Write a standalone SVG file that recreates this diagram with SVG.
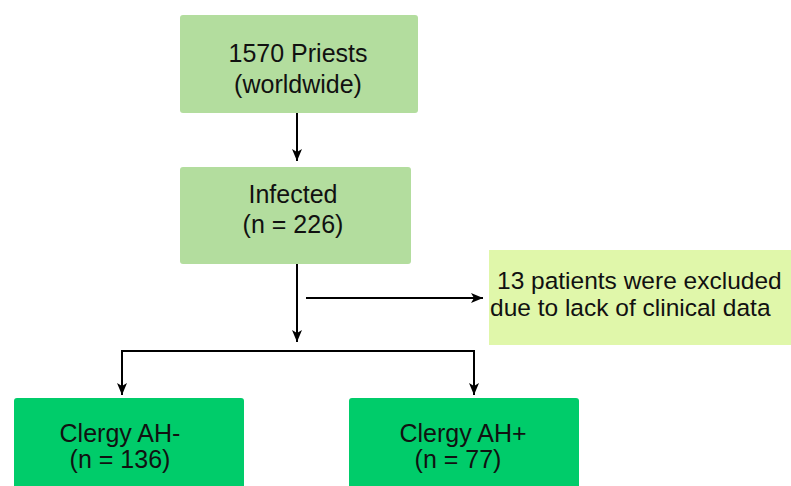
<svg xmlns="http://www.w3.org/2000/svg" width="791" height="486" viewBox="0 0 791 486">
<defs>
<marker id="ah" viewBox="0 0 12 10" refX="12" refY="5" markerWidth="12" markerHeight="10" markerUnits="userSpaceOnUse" orient="auto">
<path d="M0,0 L12,5 L0,10 L3,5 z" fill="#000"/>
</marker>
<style>
text{font-family:"Liberation Sans",Arial,sans-serif;font-size:25px;fill:#111;}
.c{text-anchor:middle;}
.s{font-size:24.5px;}
.l{fill:#b3dd9e;}
.y{fill:#e0f7aa;}
.g{fill:#00cc6a;}
.k{stroke:#000;stroke-width:2;fill:none;}
</style>
</defs>
<rect width="791" height="486" fill="#fff"/>
<g id="priests">
<rect class="l" x="180" y="15" width="238" height="98" rx="3"/>
<text class="c" x="298" y="62">1570 Priests</text>
<text class="c" x="298" y="93">(worldwide)</text>
</g>
<g id="infected">
<rect class="l" x="180" y="167" width="231" height="97" rx="3"/>
<text class="c" x="293" y="203">Infected</text>
<text class="c" x="293" y="233">(n = 226)</text>
</g>
<g id="excluded">
<rect class="y" x="489" y="250" width="302" height="95"/>
<text class="s" x="497" y="289">13 patients were excluded</text>
<text class="s" x="490" y="316">due to lack of clinical data</text>
</g>
<g id="ahneg">
<rect class="g" x="14" y="398" width="230" height="100" rx="3"/>
<text class="c" x="120" y="442">Clergy AH-</text>
<text class="c" x="120" y="468">(n = 136)</text>
</g>
<g id="ahpos">
<rect class="g" x="349" y="398" width="230" height="100" rx="3"/>
<text class="c" x="463" y="442">Clergy AH+</text>
<text class="c" x="458" y="468">(n = 77)</text>
</g>
<g id="connectors">
<line class="k" x1="297" y1="113" x2="297" y2="161" marker-end="url(#ah)"/>
<line class="k" x1="297" y1="264" x2="297" y2="342" marker-end="url(#ah)"/>
<line class="k" x1="306" y1="298" x2="483" y2="298" marker-end="url(#ah)"/>
<polyline class="k" points="297,351 122,351 122,395" marker-end="url(#ah)"/>
<polyline class="k" points="297,351 474,351 474,395" marker-end="url(#ah)"/>
</g>
</svg>
